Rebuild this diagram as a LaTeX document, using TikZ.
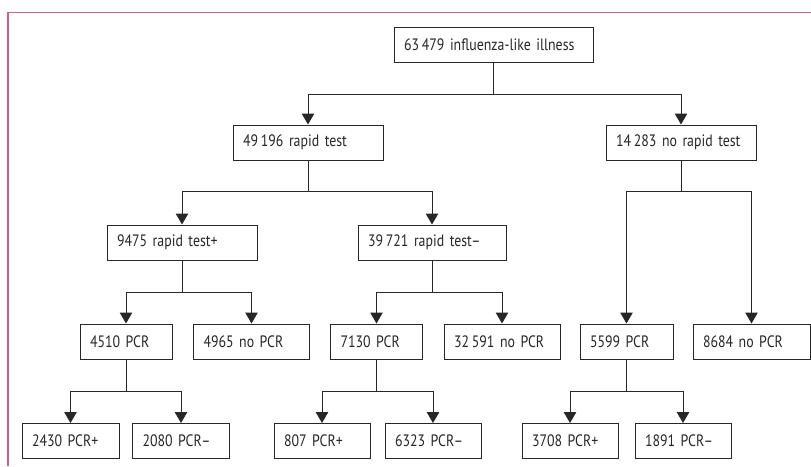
\documentclass[tikz,border=0pt]{standalone}
\usepackage{fontspec}
\setmainfont{PT Sans}[FakeStretch=0.84]
\usetikzlibrary{arrows.meta}
\definecolor{framecol}{RGB}{218,92,130}
\definecolor{ink}{RGB}{40,38,40}
\tikzset{
  box/.style={draw=ink, line width=1pt, fill=white, text=ink, text width=#1-20pt,
    inner xsep=10pt, inner ysep=0pt, minimum height=35pt, align=left,
    font=\fontsize{16.5}{19}\selectfont},
  conn/.style={draw=ink, line width=1pt},
  arr/.style={conn, -{Triangle[length=11pt,width=12.5pt]}},
  framestyle/.style={draw=framecol, line width=1.3pt}
}
\begin{document}
\begin{tikzpicture}[x=1pt,y=-1pt]
\useasboundingbox (0,0) rectangle (811,466);
\draw[framestyle] (811,12.5) -- (8,12.5) -- (8,466);

% nodes
\node[box=199pt] (root) at (493.5,44.5) {63\,479 influenza-like illness};
\node[box=150pt] (rt) at (308,142.5) {49\,196 rapid test};
\node[box=150pt] (nrt) at (681,142.5) {14\,283 no rapid test};
\node[box=150pt] (rtp) at (182,242.5) {9475 rapid test+};
\node[box=148pt] (rtn) at (432,242.5) {39\,721 rapid test–};
\node[box=92pt] (p1) at (126,341.5) {4510 PCR};
\node[box=116pt] (np1) at (251.5,341.5) {4965 no PCR};
\node[box=92pt] (p2) at (376.5,341.5) {7130 PCR};
\node[box=116pt] (np2) at (502,341.5) {32\,591 no PCR};
\node[box=93pt] (p3) at (626.5,341.5) {5599 PCR};
\node[box=117pt] (np3) at (751.5,341.5) {8684 no PCR};
\node[box=97pt] (a1) at (70.5,441) {2430 PCR+};
\node[box=97pt] (a2) at (181,441) {2080 PCR–};
\node[box=96pt] (b1) at (322,441) {807 PCR+};
\node[box=96pt] (b2) at (433,441) {6323 PCR–};
\node[box=96pt] (c1) at (570,441) {3708 PCR+};
\node[box=96pt] (c2) at (683,441) {1891 PCR–};

% junctions
\coordinate (j0) at (493.5,94);
\coordinate (j1) at (308,191);
\coordinate (j2) at (681,191);
\coordinate (j3) at (182,292);
\coordinate (j4) at (432,292);
\coordinate (j5) at (126,391);
\coordinate (j6) at (376.5,391);
\coordinate (j7) at (626.5,391);

\draw[conn] (root.south) -- (j0);
\draw[arr] (j0) -| (rt);
\draw[arr] (j0) -| (nrt);

\draw[conn] (rt.south) -- (j1);
\draw[arr] (j1) -| (rtp);
\draw[arr] (j1) -| (rtn);

\draw[conn] (nrt.south) -- (j2);
\draw[arr] (j2) -| (p3);
\draw[arr] (j2) -| (np3);

\draw[conn] (rtp.south) -- (j3);
\draw[arr] (j3) -| (p1);
\draw[arr] (j3) -| (np1);

\draw[conn] (rtn.south) -- (j4);
\draw[arr] (j4) -| (p2);
\draw[arr] (j4) -| (np2);

\draw[conn] (p1.south) -- (j5);
\draw[arr] (j5) -| (a1);
\draw[arr] (j5) -| (a2);

\draw[conn] (p2.south) -- (j6);
\draw[arr] (j6) -| (b1);
\draw[arr] (j6) -| (b2);

\draw[conn] (p3.south) -- (j7);
\draw[arr] (j7) -| (c1);
\draw[arr] (j7) -| (c2);
\end{tikzpicture}
\end{document}
